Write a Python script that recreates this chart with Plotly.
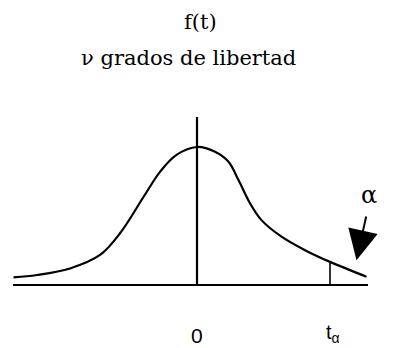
import plotly.graph_objects as go

# Density curve f(t), sampled along t (hand-shaped, heavier right tail)
t_vals = [-3.67, -3.20, -2.54, -1.94, -1.54, -1.07, -0.74, -0.41, 0.0,
          0.36, 0.63, 0.83, 1.06, 1.29, 1.69, 2.16, 2.66, 3.39]
f_vals = [0.022, 0.029, 0.048, 0.087, 0.150, 0.255, 0.328, 0.377, 0.400,
          0.386, 0.357, 0.304, 0.237, 0.188, 0.140, 0.101, 0.067, 0.024]

# Critical value and the height of the density there
t_alpha = 2.66
f_at_alpha = 0.067

# Horizontal axis extent and vertical axis height
axis_t = [-3.68, 3.42]
axis_top = 0.487

# Arrow pointing at the upper-tail area
arrow_tip = (3.19, 0.072)
arrow_tail = (3.39, 0.203)

tick_labels = ["0", "t<sub>α</sub>"]
title_top = "f(t)"
title_sub = "ν grados de libertad"

SERIF = "DejaVu Serif, serif"
SANS = "Liberation Sans, Arial, sans-serif"

line_style = dict(color="black", width=2.2)

fig = go.Figure()

# baseline
fig.add_trace(go.Scatter(x=axis_t, y=[0, 0], mode="lines", line=line_style,
                         hoverinfo="skip"))
# vertical axis at t = 0
fig.add_trace(go.Scatter(x=[0, 0], y=[0, axis_top], mode="lines", line=line_style,
                         hoverinfo="skip"))
# density curve
fig.add_trace(go.Scatter(x=t_vals, y=f_vals, mode="lines",
                         line=dict(color="black", width=2.2, shape="spline", smoothing=1.0),
                         hoverinfo="skip"))
# ordinate at t_alpha
fig.add_trace(go.Scatter(x=[t_alpha, t_alpha], y=[0, f_at_alpha], mode="lines",
                         line=dict(color="black", width=1.6), hoverinfo="skip"))

# arrow to the tail area
fig.add_annotation(x=arrow_tip[0], y=arrow_tip[1], ax=arrow_tail[0], ay=arrow_tail[1],
                   xref="x", yref="y", axref="x", ayref="y", text="",
                   showarrow=True, arrowhead=2, arrowsize=3.0, arrowwidth=2,
                   arrowcolor="black")
fig.add_annotation(x=3.43, y=0.262, xref="x", yref="y", text="α", showarrow=False,
                   xanchor="center", yanchor="middle",
                   font=dict(family=SERIF, size=24, color="black"))

# tick labels under the baseline
fig.add_annotation(x=0.0, y=-0.145, xref="x", yref="y", text=tick_labels[0],
                   showarrow=False, xanchor="center", yanchor="middle",
                   font=dict(family=SANS, size=21, color="black"))
fig.add_annotation(x=t_alpha + 0.06, y=-0.140, xref="x", yref="y", text=tick_labels[1],
                   showarrow=False, xanchor="center", yanchor="middle",
                   font=dict(family=SANS, size=20, color="black"))

# titles
fig.add_annotation(x=200 / 411, y=1 - 22 / 348, xref="paper", yref="paper",
                   text=title_top, showarrow=False, xanchor="center", yanchor="middle",
                   font=dict(family=SERIF, size=21, color="black"))
fig.add_annotation(x=188 / 411, y=1 - 58 / 348, xref="paper", yref="paper",
                   text=title_sub, showarrow=False, xanchor="center", yanchor="middle",
                   font=dict(family=SERIF, size=21, color="black"))

fig.update_layout(
    width=411, height=348,
    margin=dict(l=0, r=0, t=0, b=0),
    paper_bgcolor="white", plot_bgcolor="white",
    showlegend=False,
    xaxis=dict(range=[-3.94, 4.28], visible=False, fixedrange=True),
    yaxis=dict(range=[-0.1826, 0.826], visible=False, fixedrange=True),
)

fig.write_html("out.html")
